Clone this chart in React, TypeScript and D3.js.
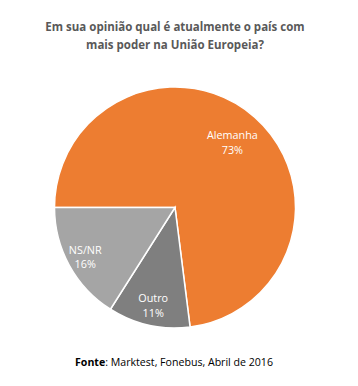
import * as d3 from 'd3'

const categories = ['Alemanha', 'Outro', 'NS/NR']
const values = [73, 11, 16]
const colors = ['#ED7D31', '#7F7F7F', '#A5A5A5']
const labelRadius = [0.72, 0.83, 0.85]

const titleLines = ['Em sua opinião qual é atualmente o país com', 'mais poder na União Europeia?']

const W = 358
const H = 386
const cx = 175
const cy = 207.5
const r = 120.5
const font = "'Open Sans', 'Noto Sans', sans-serif"

export default function App() {
  const pie = d3
    .pie<number>()
    .sort(null)
    .startAngle(-Math.PI / 2)
    .endAngle((3 * Math.PI) / 2)
  const arcs = pie(values)
  const arc = d3.arc<d3.PieArcDatum<number>>().innerRadius(0).outerRadius(r)

  return (
    <svg width={W} height={H} style={{ position: 'absolute', left: 0, top: 0, background: '#fff' }}>
      <g fontFamily={font} textAnchor="middle">
        {titleLines.map((t, i) => (
          <text key={i} x={175} y={31 + i * 18} fontSize={11.5} fontWeight="bold" fill="#595959">
            {t}
          </text>
        ))}
      </g>
      <g transform={`translate(${cx},${cy})`}>
        {arcs.map((a, i) => (
          <path key={i} d={arc(a) || ''} fill={colors[i]} stroke="#fff" strokeWidth={1.5} />
        ))}
        {arcs.map((a, i) => {
          const lr = r * labelRadius[i]
          const [lx, ly] = d3.arc<d3.PieArcDatum<number>>().innerRadius(lr).outerRadius(lr).centroid(a)
          return (
            <text key={i} x={lx} y={ly} fontFamily={font} fontSize={10.8} fill="#fff" textAnchor="middle">
              <tspan x={lx} dy="-3">{categories[i]}</tspan>
              <tspan x={lx} dy="14.5">{`${values[i]}%`}</tspan>
            </text>
          )
        })}
      </g>
      <text x={174} y={366} fontFamily={font} fontSize={10.6} fill="#000" textAnchor="middle">
        <tspan fontWeight="bold">Fonte</tspan>: Marktest, Fonebus, Abril de 2016
      </text>
    </svg>
  )
}
